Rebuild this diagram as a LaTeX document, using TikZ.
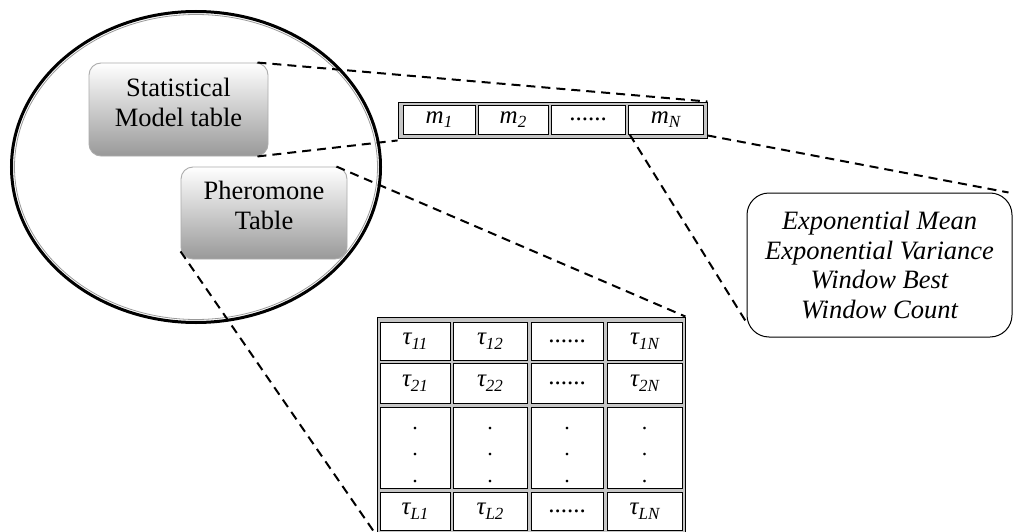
\documentclass[tikz,border=0pt]{standalone}
\usepackage{fontspec}
\setmainfont{Liberation Serif}
\usetikzlibrary{shapes.geometric}
\newcommand{\sbs}[1]{\raisebox{-0.4ex}{\fontsize{17}{17}\selectfont\itshape #1}}
\begin{document}
\begin{tikzpicture}[x=1pt,y=-1pt,
  gbox/.style={draw=gray!65, line width=0.9pt, rounded corners=12pt, top color=white, bottom color=gray!80, inner sep=0pt},
  glabel/.style={align=center, font=\fontsize{26.5}{30}\selectfont, inner sep=0pt},
  tabouter/.style={draw=black, line width=0.9pt, fill=gray!45, inner sep=0pt},
  cellbox/.style={draw=black, line width=0.8pt, fill=white, inner sep=0pt, font=\fontsize{25}{27}\selectfont},
  conn/.style={dash pattern=on 9pt off 6pt, line width=2pt},
  dotlbl/.style={anchor=base, inner sep=0pt, font=\fontsize{22}{24}\selectfont}
]
\useasboundingbox (0,0) rectangle (1014,532);
\fill[white] (0,0) rectangle (1014,532);
\clip (0,0) rectangle (1014,532);

% ellipse
\node[ellipse, draw=black, line width=3pt, minimum width=369pt, minimum height=311pt, inner sep=0pt] (ell) at (196,167) {};
\node[ellipse, draw=gray!80, line width=0.8pt, minimum width=363pt, minimum height=305pt, inner sep=0pt] (elli) at (196,167) {};

% boxes in ellipse
\node[gbox, minimum width=179pt, minimum height=93pt] (stat) at (178.5,109.5) {};
\node[glabel] (statlbl) at (178.5,102) {Statistical\\Model table};
\node[gbox, minimum width=166pt, minimum height=92pt] (pher) at (264,213) {};
\node[glabel] (pherlbl) at (264,205) {Pheromone\\Table};

% m array
\node[tabouter, minimum width=309pt, minimum height=36pt] (marr) at (552.5,120) {};
\node[cellbox, minimum width=72pt, minimum height=29pt] (m1) at (439,119.5) {\itshape m\sbs{1}};
\node[cellbox, minimum width=70pt, minimum height=29pt] (m2) at (513,119.5) {\itshape m\sbs{2}};
\node[cellbox, minimum width=74pt, minimum height=29pt] (m3) at (588,119.5) {......};
\node[cellbox, minimum width=75pt, minimum height=29pt] (mN) at (665.5,119.5) {\itshape m\sbs{N}};

% exponential box
\node[draw=black, line width=1pt, rounded corners=22pt, minimum width=265pt, minimum height=144pt, inner sep=0pt,
  align=center, font=\fontsize{26.5}{29.5}\selectfont\itshape] (exp) at (879.5,265)
  {Exponential Mean\\Exponential Variance\\Window Best\\Window Count};

% tau table
\node[tabouter, minimum width=308pt, minimum height=218pt] (tau) at (531,426) {};
% row 1
\node[cellbox, minimum width=70pt, minimum height=38pt] (t11) at (415,341) {\itshape τ\sbs{11}};
\node[cellbox, minimum width=74pt, minimum height=38pt] (t12) at (490,341) {\itshape τ\sbs{12}};
\node[cellbox, minimum width=72pt, minimum height=38pt] (t13) at (567,341) {......};
\node[cellbox, minimum width=75pt, minimum height=38pt] (t14) at (644.5,341) {\itshape τ\sbs{1N}};
% row 2
\node[cellbox, minimum width=70pt, minimum height=40pt] (t21) at (415,383) {\itshape τ\sbs{21}};
\node[cellbox, minimum width=74pt, minimum height=40pt] (t22) at (490,383) {\itshape τ\sbs{22}};
\node[cellbox, minimum width=72pt, minimum height=40pt] (t23) at (567,383) {......};
\node[cellbox, minimum width=75pt, minimum height=40pt] (t24) at (644.5,383) {\itshape τ\sbs{2N}};
% row 3
\node[cellbox, minimum width=70pt, minimum height=81pt] (t31) at (415,447.5) {};
\node[cellbox, minimum width=74pt, minimum height=81pt] (t32) at (490,447.5) {};
\node[cellbox, minimum width=72pt, minimum height=81pt] (t33) at (567,447.5) {};
\node[cellbox, minimum width=75pt, minimum height=81pt] (t34) at (644.5,447.5) {};
\foreach \cx/\nm in {415/a,490/b,567/c,644.5/d}{
  \node[dotlbl] (d1\nm) at (\cx,429) {.};
  \node[dotlbl] (d2\nm) at (\cx,455.5) {.};
  \node[dotlbl] (d3\nm) at (\cx,482) {.};
}
% row 4
\node[cellbox, minimum width=70pt, minimum height=38pt] (t41) at (415,511) {\itshape τ\sbs{L1}};
\node[cellbox, minimum width=74pt, minimum height=38pt] (t42) at (490,511) {\itshape τ\sbs{L2}};
\node[cellbox, minimum width=72pt, minimum height=38pt] (t43) at (567,511) {......};
\node[cellbox, minimum width=75pt, minimum height=38pt] (t44) at (644.5,511) {\itshape τ\sbs{LN}};

% connectors
\draw[conn] ([xshift=-11pt]stat.north east) -- (marr.north east);
\draw[conn] ([xshift=-11pt]stat.south east) -- ([yshift=-2pt]marr.south west);
\draw[conn] ([xshift=-11pt]pher.north east) -- (tau.north east);
\draw[conn] ([yshift=8pt]pher.south west) -- (tau.south west);
\draw[conn] ([xshift=2pt]mN.south west) -- ([yshift=15pt]exp.south west);
\draw[conn] ([yshift=3pt]marr.south east) -- ([xshift=-4pt]exp.north east);
\end{tikzpicture}
\end{document}
